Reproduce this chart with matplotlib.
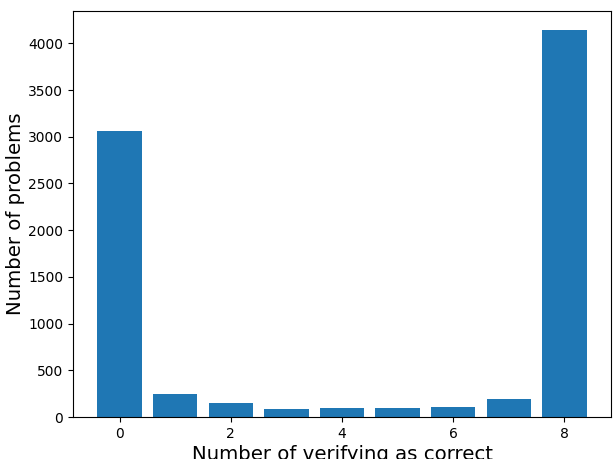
import matplotlib
matplotlib.use("Agg")
import matplotlib.pyplot as plt

# 정답으로 검증된 횟수별 문제 수
num_correct = [0, 1, 2, 3, 4, 5, 6, 7, 8]
num_problems = [3060, 250, 153, 89, 100, 100, 111, 196, 4141]

fig = plt.figure(figsize=(6.13, 4.59), dpi=100)
ax = fig.add_axes([0.119, 0.0915, 0.878, 0.885])
ax.bar(num_correct, num_problems, color="#1f77b4")
ax.set_xlabel("Number of verifying as correct", fontsize=14.2, labelpad=3)
ax.set_ylabel("Number of problems", fontsize=14.2, labelpad=2)
ax.tick_params(labelsize=10)
plt.savefig("out.png", dpi=100)
